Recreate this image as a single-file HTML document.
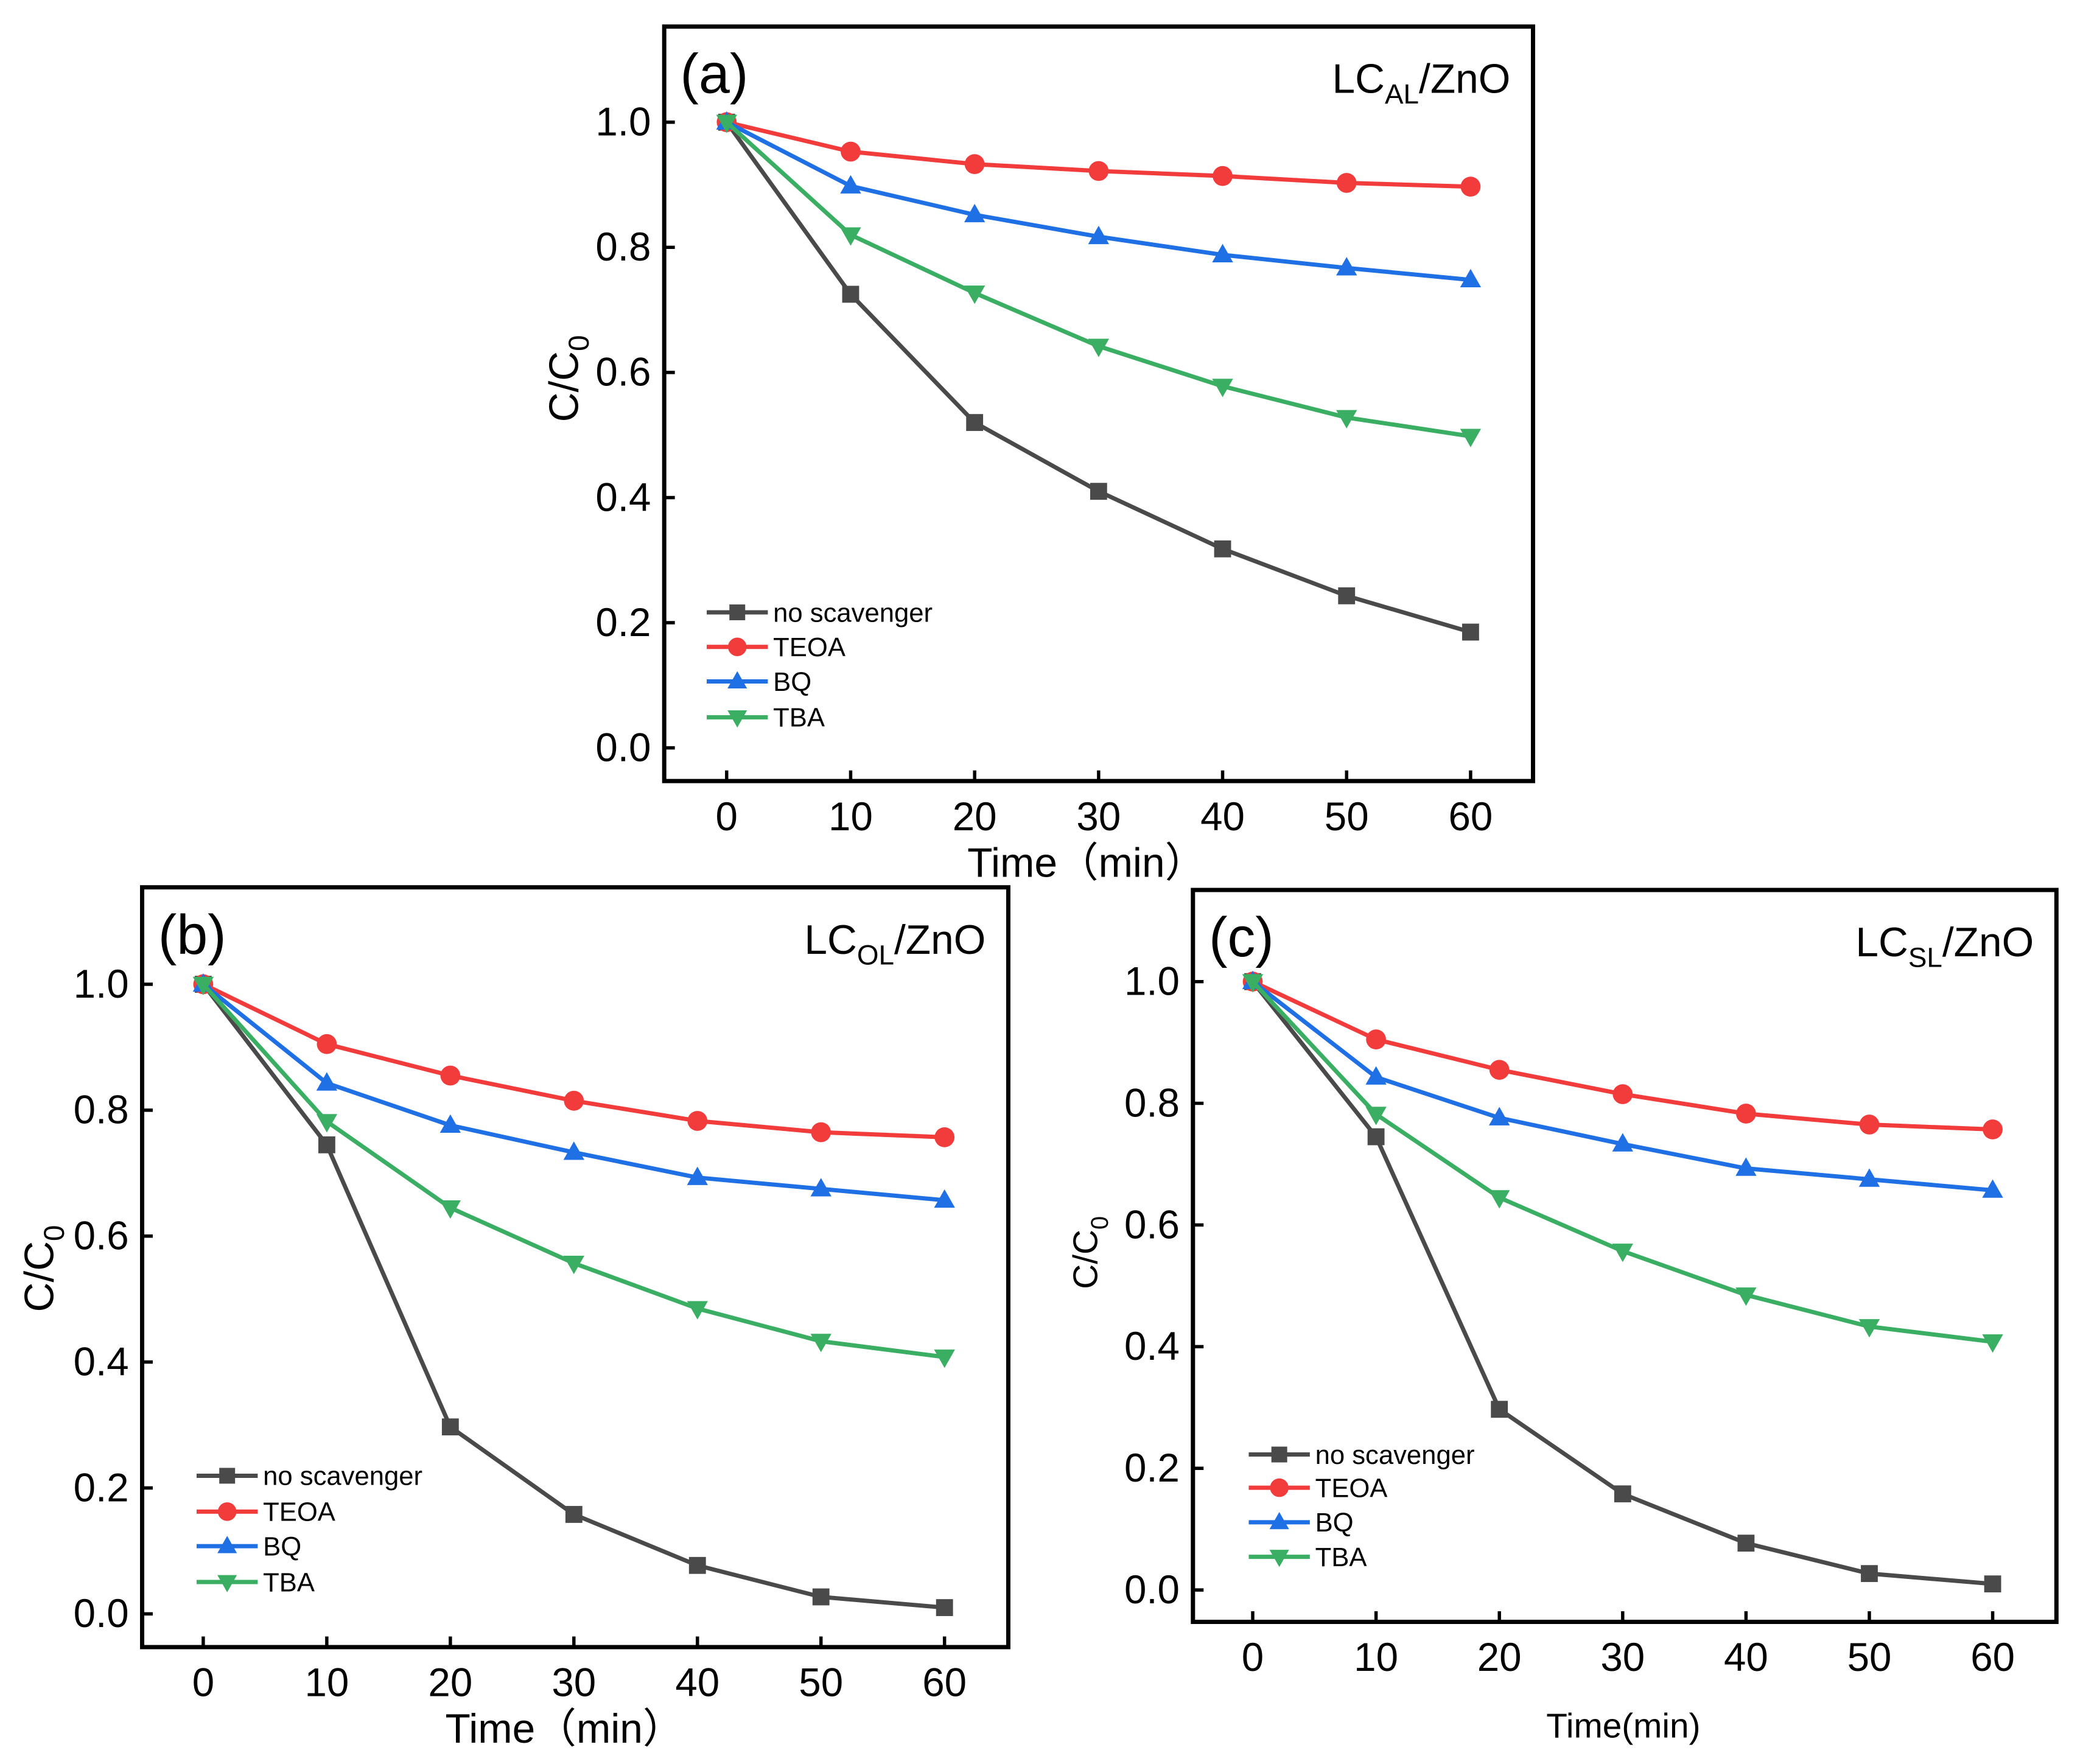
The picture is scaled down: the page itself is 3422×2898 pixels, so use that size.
<!DOCTYPE html>
<html><head><meta charset="utf-8"><style>
html,body{margin:0;padding:0;background:#fff;}
svg{display:block;}
text{font-family:"Liberation Sans",sans-serif;}
</style></head><body>
<svg id="fig" width="3422" height="2898" viewBox="0 0 1568 1328" preserveAspectRatio="none" xmlns="http://www.w3.org/2000/svg"></svg>
<script>
const timeCats = [0, 10, 20, 30, 40, 50, 60];
const xTickLabels = ["0","10","20","30","40","50","60"];
const yTickValues = [0, 0.2, 0.4, 0.6, 0.8, 1.0];
const yTickLabels = ["0.0","0.2","0.4","0.6","0.8","1.0"];
const seriesNames = ["no scavenger","TEOA","BQ","TBA"];
const aNoScav = [1, 0.725, 0.52, 0.41, 0.318, 0.243, 0.185];
const aTEOA   = [1, 0.953, 0.933, 0.922, 0.914, 0.903, 0.897];
const aBQ     = [1, 0.898, 0.852, 0.817, 0.788, 0.767, 0.748];
const aTBA    = [1, 0.82, 0.727, 0.642, 0.578, 0.528, 0.498];
const bNoScav = [1, 0.745, 0.297, 0.158, 0.077, 0.027, 0.01];
const bTEOA   = [1, 0.905, 0.855, 0.815, 0.783, 0.765, 0.757];
const bBQ     = [1, 0.843, 0.776, 0.733, 0.693, 0.675, 0.657];
const bTBA    = [1, 0.782, 0.645, 0.557, 0.485, 0.433, 0.408];
const cNoScav = [1, 0.745, 0.297, 0.158, 0.077, 0.027, 0.01];
const cTEOA   = [1, 0.905, 0.855, 0.815, 0.783, 0.765, 0.757];
const cBQ     = [1, 0.843, 0.776, 0.733, 0.693, 0.675, 0.657];
const cTBA    = [1, 0.782, 0.645, 0.557, 0.485, 0.433, 0.408];

const NS = "http://www.w3.org/2000/svg";
const svg = document.getElementById("fig");
const colors = ["#4a4a4a","#f23b3b","#1f6fe5","#3aae62"];
const shapes = ["square","circle","tri-up","tri-down"];

function el(tag, attrs, parent){
  const e = document.createElementNS(NS, tag);
  for (const k in attrs) e.setAttribute(k, attrs[k]);
  (parent||svg).appendChild(e);
  return e;
}
function marker(g, shape, x, y, color, s){
  let m;
  if (shape==="square") m = el("rect",{x:x-s*0.85,y:y-s*0.85,width:s*1.7,height:s*1.7,fill:color},g);
  else if (shape==="circle") m = el("circle",{cx:x,cy:y,r:s,fill:color},g);
  else if (shape==="tri-up") m = el("polygon",{points:`${x},${y-s*1.1} ${x-s*1.05},${y+s*0.75} ${x+s*1.05},${y+s*0.75}`,fill:color},g);
  else m = el("polygon",{points:`${x},${y+s*1.1} ${x-s*1.05},${y-s*0.75} ${x+s*1.05},${y-s*0.75}`,fill:color},g);
  return m;
}

function panel(p){
  const g = el("g",{});
  
  
  const xs = v => p.x0 + (v-0)/(60-0)*(p.x60-p.x0);
  const ys = v => p.y0 + v*(p.y1-p.y0);
  const frame = el("rect",{x:p.L,y:p.T,width:p.R-p.L,height:p.B-p.T,fill:"none",stroke:"#000","stroke-width":3.2},g);
  
  
  timeCats.forEach((t,i)=>{
    const x = xs(t);
    el("line",{x1:x,y1:p.B,x2:x,y2:p.B-8,stroke:"#000","stroke-width":2.5},g);
    const tl = el("text",{x:x,y:p.B+37,"font-size":30,"text-anchor":"middle",fill:"#000"},g);
    tl.textContent = xTickLabels[i];
    
    
  });
  yTickValues.forEach((v,i)=>{
    const y = ys(v);
    el("line",{x1:p.L,y1:y,x2:p.L+8,y2:y,stroke:"#000","stroke-width":2.5},g);
    const tl = el("text",{x:p.L-10,y:y+10,"font-size":30,"text-anchor":"end",fill:"#000"},g);
    tl.textContent = yTickLabels[i];
    
    
  });
  const yt = el("text",{transform:`translate(${p.ytx},${p.yty}) rotate(-90)`,"font-size":p.ytfs,"text-anchor":"middle",fill:"#000"},g);
  yt.innerHTML = `C/C<tspan font-size="${p.ytfs*0.7}" dy="8">0</tspan>`;
  
  
  const xt = el("text",{x:p.xtx,y:p.xty,"font-size":p.xtfs,"text-anchor":"middle",fill:"#000"},g);
  xt.textContent = p.xtitle;
  
  
  const pl = el("text",{x:p.L+12,y:p.T+50,"font-size":42,fill:"#000","font-family":"Liberation Serif, serif"},g);
  pl.textContent = "("+p.id+")";
  
  
  const st = el("text",{x:p.R-17,y:p.T+50,"font-size":31,"text-anchor":"end",fill:"#000"},g);
  st.innerHTML = `LC<tspan font-size="21" dy="8">${p.sub}</tspan><tspan dy="-8">/ZnO</tspan>`;
  
  
  p.series.forEach((vals,si)=>{
    const sg = el("g",{},g);
    
    
    const pts = vals.map((v,i)=>`${xs(timeCats[i])},${ys(v)}`).join(" ");
    el("polyline",{points:pts,fill:"none",stroke:colors[si],"stroke-width":3.2},sg);
    vals.forEach((v,i)=>{
      const m = marker(sg, shapes[si], xs(timeCats[i]), ys(v), colors[si], 7.5);
      
      
    });
  });
  seriesNames.forEach((n,si)=>{
    const y = p.legY[si];
    const lg = el("g",{},g);
    
    
    el("line",{x1:p.legX,y1:y,x2:p.legX+46,y2:y,stroke:colors[si],"stroke-width":3.2},lg);
    marker(lg, shapes[si], p.legX+23, y, colors[si], 7);
    const t = el("text",{x:p.legX+50,y:y+7,"font-size":20,fill:"#000"},lg);
    t.textContent = n;
  });
}

panel({id:"a",sub:"AL",L:500,R:1154,T:20,B:588,x0:547,x60:1107,y0:563,y1:92,
  ytx:435,yty:285,ytfs:31,xtx:818,xty:660,xtfs:31,xtitle:"Time\uFF08min\uFF09",
  legX:532,legY:[461,487,513,540],series:[aNoScav,aTEOA,aBQ,aTBA]});
panel({id:"b",sub:"OL",L:107,R:759,T:668,B:1240,x0:153,x60:711,y0:1215,y1:741,
  ytx:40,yty:955,ytfs:31,xtx:425,xty:1312,xtfs:31,xtitle:"Time\uFF08min\uFF09",
  legX:148,legY:[1111,1138,1164,1191],series:[bNoScav,bTEOA,bBQ,bTBA]});
panel({id:"c",sub:"SL",L:898,R:1548,T:670,B:1221,x0:943,x60:1500,y0:1197,y1:739,
  ytx:826,yty:943,ytfs:26,xtx:1222,xty:1308,xtfs:26,xtitle:"Time(min)",
  legX:940,legY:[1095,1120,1146,1172],series:[cNoScav,cTEOA,cBQ,cTBA]});
</script>
</body></html>
